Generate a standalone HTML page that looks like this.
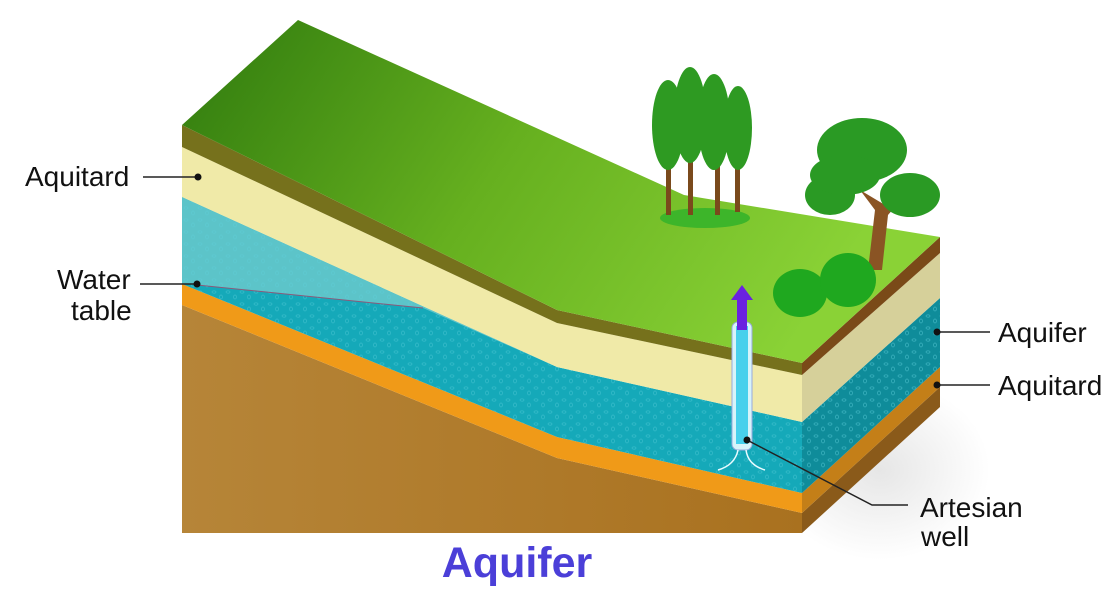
<!DOCTYPE html>
<html><head><meta charset="utf-8"><style>
html,body{margin:0;padding:0;background:#fff;width:1116px;height:601px;overflow:hidden}
svg{display:block}
text{font-family:"Liberation Sans",sans-serif}
</style></head><body>
<svg width="1116" height="601" viewBox="0 0 1116 601" xmlns="http://www.w3.org/2000/svg">
<defs>
<linearGradient id="g" x1="0" y1="0" x2="1" y2="0.3"><stop offset="0" stop-color="#2f7a0e"/><stop offset="0.5" stop-color="#66b01f"/><stop offset="1" stop-color="#8ad236"/></linearGradient>
<linearGradient id="br" x1="0" y1="0" x2="1" y2="0"><stop offset="0" stop-color="#b68538"/><stop offset="1" stop-color="#a9711f"/></linearGradient>
<radialGradient id="sh" cx="0.5" cy="0.5" r="0.5"><stop offset="0" stop-color="#e6e6e6"/><stop offset="1" stop-color="#fff"/></radialGradient>
<pattern id="dots" width="14" height="12" patternUnits="userSpaceOnUse"><ellipse cx="4" cy="4" rx="2" ry="1.2" fill="none" stroke="#5fd0dc" stroke-width="0.7"/><ellipse cx="11" cy="9" rx="1.5" ry="2" fill="none" stroke="#5fd0dc" stroke-width="0.7"/></pattern>
</defs>
<ellipse cx="880" cy="470" rx="110" ry="90" fill="url(#sh)"/>
<!-- front face -->
<polygon points="182,305 557,458 802,513 802,533 182,533" fill="url(#br)"/>
<polygon points="182,284 557,437 802,493 802,513 557,458 182,305" fill="#f09a18"/>
<polygon points="182,197 557,367 802,422 802,493 557,437 182,284" fill="#15a9b9"/>
<polygon points="182,197 182,284 197,285 423,308 557,367 182,197" fill="#5cc4c9"/>
<polygon points="182,197 557,367 802,422 802,493 557,437 182,284" fill="url(#dots)" opacity="0.5"/>
<line x1="197" y1="285" x2="423" y2="308" stroke="#8a5a7a" stroke-width="1"/>
<polygon points="182,147 557,323 802,375 802,422 557,367 182,197" fill="#f0eaa8"/>
<polygon points="182,125 557,310 802,363 802,375 557,323 182,147" fill="#76711c"/>
<!-- side face -->
<polygon points="802,513 940,387 940,407 802,533" fill="#8a5a1a"/>
<polygon points="802,493 940,367 940,387 802,513" fill="#c47f18"/>
<polygon points="802,422 940,298 940,367 802,493" fill="#0f8c9a"/>
<polygon points="802,422 940,298 940,367 802,493" fill="url(#dots)" opacity="0.6"/>
<polygon points="802,375 940,253 940,298 802,422" fill="#d6d09a"/>
<polygon points="802,363 940,237 940,253 802,375" fill="#7a4a18"/>
<!-- top -->
<polygon points="182,125 298,20 684,195 940,237 802,363 557,310" fill="url(#g)"/>
<!-- trees -->
<ellipse cx="705" cy="218" rx="45" ry="10" fill="#3db52a"/>
<g fill="#7a4a1c"><rect x="666" y="150" width="5" height="65"/><rect x="688" y="150" width="5" height="65"/><rect x="715" y="150" width="5" height="65"/><rect x="735" y="150" width="5" height="62"/></g>
<g fill="#2e9a22"><ellipse cx="668" cy="125" rx="16" ry="45"/><ellipse cx="690" cy="115" rx="16" ry="48"/><ellipse cx="714" cy="122" rx="16" ry="48"/><ellipse cx="738" cy="128" rx="14" ry="42"/></g>
<path d="M868,270 L875,210 L860,190 L885,205 L905,195 L888,215 L882,270Z" fill="#8a5424"/>
<g fill="#2a9a24"><ellipse cx="862" cy="150" rx="45" ry="32"/><ellipse cx="830" cy="195" rx="25" ry="20"/><ellipse cx="910" cy="195" rx="30" ry="22"/><ellipse cx="845" cy="175" rx="35" ry="20"/></g>
<g fill="#1fa81f"><ellipse cx="800" cy="293" rx="27" ry="24"/><ellipse cx="848" cy="280" rx="28" ry="27"/></g>
<!-- well -->
<rect x="732" y="322" width="20" height="128" rx="6" fill="#d8f4fa" stroke="#9ad" stroke-width="1"/>
<rect x="736" y="326" width="12" height="118" fill="#48d0ec"/>
<polygon points="737,330 737,300 731,300 742,285 753,300 747,300 747,330" fill="#6a22e0"/>
<path d="M718,470 Q735,465 738,450 M765,470 Q748,465 746,450" stroke="#e8fbff" stroke-width="1.5" fill="none"/>
<!-- labels -->
<g stroke="#222" stroke-width="1.5" fill="none">
<line x1="143" y1="177" x2="198" y2="177"/>
<line x1="140" y1="284" x2="197" y2="284"/>
<line x1="937" y1="332" x2="990" y2="332"/>
<line x1="937" y1="385" x2="990" y2="385"/>
<polyline points="747,440 872,505 908,505"/>
</g>
<g fill="#111"><circle cx="198" cy="177" r="3.5"/><circle cx="197" cy="284" r="3.5"/><circle cx="937" cy="332" r="3.5"/><circle cx="937" cy="385" r="3.5"/><circle cx="747" cy="440" r="3.5"/></g>
<g font-size="28" fill="#111">
<text x="25" y="186">Aquitard</text>
<text x="57" y="289">Water</text>
<text x="71" y="320">table</text>
<text x="998" y="342">Aquifer</text>
<text x="998" y="395">Aquitard</text>
<text x="920" y="517">Artesian</text>
<text x="921" y="546">well</text>
</g>
<text x="517" y="577" font-size="43" font-weight="bold" fill="#4b3fd8" text-anchor="middle">Aquifer</text>
</svg>
</body></html>
